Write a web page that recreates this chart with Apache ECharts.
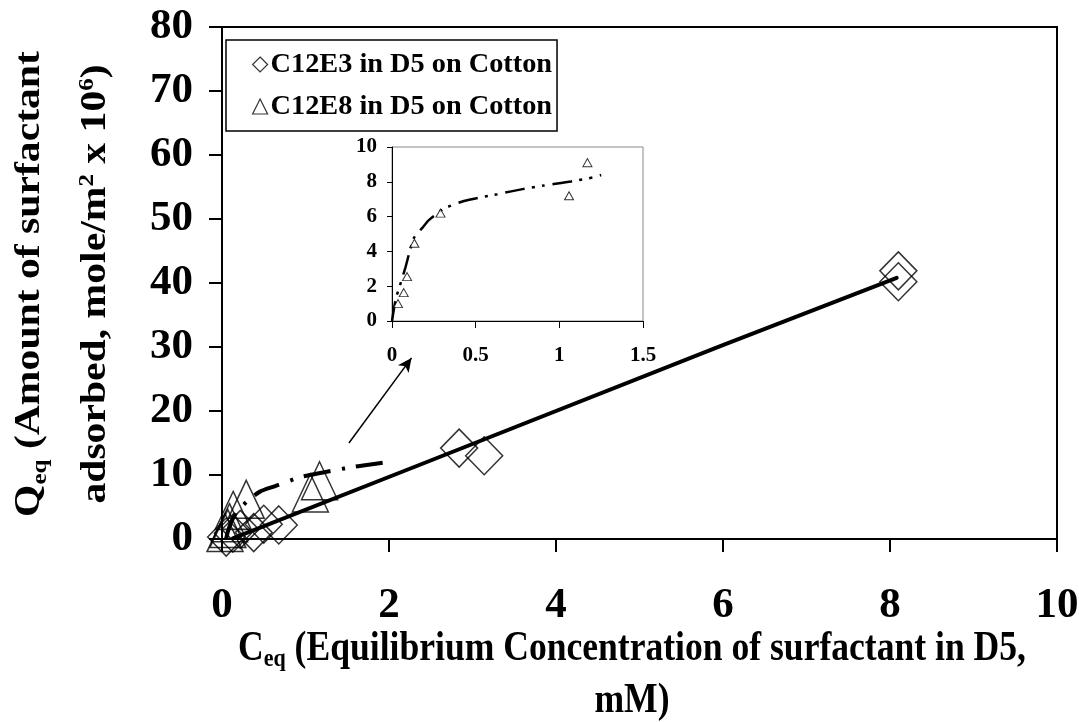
<!DOCTYPE html>
<html>
<head>
<meta charset="utf-8">
<title>Adsorption of C12E3 and C12E8 on cotton</title>
<script src="https://cdn.jsdelivr.net/npm/echarts@6/dist/echarts.min.js"></script>
<style>
  html, body { margin: 0; padding: 0; background: #fff; }
  #chart { width: 1079px; height: 722px; }
</style>
</head>
<body>
<div id="chart"></div>
<script>
// Measured adsorption points: equilibrium concentration (mM) and adsorbed amount (mole/m2 x 1e6)
const c12e3Ceq = [0.05, 0.13, 0.22, 0.38, 0.50, 0.68, 2.84, 3.14, 8.10, 8.10];
const c12e3Qeq = [0.3, 0.9, 1.5, 1.0, 2.3, 2.2, 14.2, 13.0, 40.2, 41.9];

const c12e8Ceq = [0.036, 0.07, 0.09, 0.134, 0.29, 1.058, 1.168];
const c12e8Qeq = [1.0, 1.63, 2.55, 4.47, 6.2, 7.2, 9.1];

// Trend line for C12E3 (solid)
const fitE3Ceq = [0.13, 2.37, 5.96, 8.08];
const fitE3Qeq = [0.1, 11.6, 30.1, 40.8];

// Trend curve for C12E8 on the full-range plot (dash-dot)
const fitE8Ceq = [0.05, 0.08, 0.12, 0.17, 0.23, 0.33, 0.455, 0.62, 0.79, 0.92, 1.05, 1.37, 1.55, 1.69, 2.04];
const fitE8Qeq = [0.1, 1.6, 2.9, 4.1, 5.0, 6.2, 7.4, 8.2, 9.0, 9.6, 10.0, 10.8, 11.2, 11.5, 12.1];

// Trend curve for C12E8 in the low-concentration inset (dash-dot-dot)
const insetFitCeq = [0, 0.022, 0.046, 0.062, 0.08, 0.13, 0.18, 0.22, 0.31, 0.43, 0.63, 0.78, 0.91, 1.07, 1.21, 1.25];
const insetFitQeq = [0, 1.25, 2.0, 2.5, 3.07, 4.76, 5.34, 5.8, 6.45, 6.9, 7.29, 7.58, 7.79, 8.02, 8.27, 8.39];

// Pointer from the low-concentration region to the inset (data coordinates of the main plot)
const pointerFrom = [1.52, 15.0];
const pointerTo = [2.27, 28.3];

// Axis ranges and tick steps
const mainX = { min: 0, max: 10, step: 2 };
const mainY = { min: 0, max: 80, step: 10 };
const insetX = { min: 0, max: 1.5, step: 0.5 };
const insetY = { min: 0, max: 10, step: 2 };

const seriesNames = ['C12E3 in D5 on Cotton', 'C12E8 in D5 on Cotton'];

const zip = (xs, ys) => xs.map((x, i) => [x, ys[i]]);

const SERIF = "'Liberation Serif', 'Times New Roman', Times, serif";
const INK = '#000';

function valueAxis(range, idx, opts) {
  return Object.assign({
    type: 'value',
    gridIndex: idx,
    min: range.min,
    max: range.max,
    interval: range.step,
    splitLine: { show: false },
    axisLine: { show: true, onZero: false, lineStyle: { color: INK, width: 2 } },
    axisTick: { show: true, inside: false, length: 13, lineStyle: { color: INK, width: 2 } },
    axisLabel: { color: INK, fontFamily: SERIF, fontWeight: 'bold', fontSize: 43 }
  }, opts || {});
}

const chart = echarts.init(document.getElementById('chart'), null, { renderer: 'canvas' });

const option = {
  backgroundColor: '#fff',
  animation: false,
  grid: [
    { left: 222, right: 22, top: 27, bottom: 183, show: true, borderColor: INK, borderWidth: 2, backgroundColor: 'transparent', containLabel: false, outerBoundsMode: 'none' },
    { left: 392, right: 436, top: 147, bottom: 401, show: true, borderColor: '#888', borderWidth: 1, backgroundColor: '#fff', containLabel: false, outerBoundsMode: 'none' }
  ],
  xAxis: [
    valueAxis(mainX, 0, { axisLabel: { color: INK, fontFamily: SERIF, fontWeight: 'bold', fontSize: 43, margin: 45 } }),
    valueAxis(insetX, 1, {
      axisLine: { show: true, onZero: false, lineStyle: { color: INK, width: 1 } },
      axisTick: { show: true, length: 7, lineStyle: { color: INK, width: 1 } },
      axisLabel: { color: INK, fontFamily: SERIF, fontWeight: 'bold', fontSize: 21, margin: 24 }
    })
  ],
  yAxis: [
    valueAxis(mainY, 0, { axisLabel: { color: INK, fontFamily: SERIF, fontWeight: 'bold', fontSize: 43, margin: 29 } }),
    valueAxis(insetY, 1, {
      axisLine: { show: true, onZero: false, lineStyle: { color: INK, width: 1 } },
      axisTick: { show: true, length: 5, lineStyle: { color: INK, width: 1 } },
      axisLabel: { color: INK, fontFamily: SERIF, fontWeight: 'bold', fontSize: 21, margin: 15 }
    })
  ],
  legend: {
    data: [
      { name: seriesNames[0], icon: 'diamond' },
      { name: seriesNames[1], icon: 'triangle' }
    ],
    orient: 'vertical',
    left: 226,
    top: 40,
    padding: [9, 5, 9, 26],
    itemGap: 11,
    itemWidth: 15,
    itemHeight: 15,
    backgroundColor: '#fff',
    borderColor: INK,
    borderWidth: 1.5,
    borderRadius: 0,
    selectedMode: false,
    itemStyle: { color: 'rgba(0,0,0,0)', borderColor: INK, borderWidth: 1.2 },
    textStyle: { color: INK, fontFamily: SERIF, fontWeight: 'bold', fontSize: 28.3, lineHeight: 31, padding: [0, 0, 0, -2] }
  },
  series: [
    {
      name: seriesNames[0],
      type: 'scatter',
      xAxisIndex: 0, yAxisIndex: 0,
      symbol: 'diamond',
      symbolSize: [37, 38],
      itemStyle: { color: 'rgba(0,0,0,0)', borderColor: INK, borderWidth: 1.5 },
      data: zip(c12e3Ceq, c12e3Qeq),
      z: 3
    },
    {
      name: seriesNames[1],
      type: 'scatter',
      xAxisIndex: 0, yAxisIndex: 0,
      symbol: 'triangle',
      symbolSize: [36, 38],
      itemStyle: { color: 'rgba(0,0,0,0)', borderColor: INK, borderWidth: 1.5 },
      data: zip(c12e8Ceq, c12e8Qeq),
      z: 3
    },
    {
      name: 'C12E3 fit',
      type: 'line',
      xAxisIndex: 0, yAxisIndex: 0,
      showSymbol: false,
      lineStyle: { color: INK, width: 4, type: 'solid', cap: 'round' },
      data: zip(fitE3Ceq, fitE3Qeq),
      z: 4
    },
    {
      name: 'C12E8 fit',
      type: 'line',
      xAxisIndex: 0, yAxisIndex: 0,
      showSymbol: false,
      smooth: 0.3,
      lineStyle: { color: INK, width: 4, type: [27, 12, 3, 11], cap: 'butt' },
      data: zip(fitE8Ceq, fitE8Qeq),
      z: 4
    },
    {
      name: 'pointer',
      type: 'line',
      xAxisIndex: 0, yAxisIndex: 0,
      data: [],
      silent: true,
      markLine: {
        silent: true,
        symbol: ['none', 'arrow'],
        symbolSize: [10, 14],
        label: { show: false },
        lineStyle: { color: INK, width: 1.5, type: 'solid' },
        data: [[{ coord: pointerFrom }, { coord: pointerTo }]]
      }
    },
    {
      name: 'C12E8 inset',
      type: 'scatter',
      xAxisIndex: 1, yAxisIndex: 1,
      symbol: 'triangle',
      symbolSize: [9, 8],
      itemStyle: { color: '#fff', borderColor: INK, borderWidth: 1 },
      data: zip(c12e8Ceq, c12e8Qeq),
      z: 5
    },
    {
      name: 'C12E8 inset fit',
      type: 'line',
      xAxisIndex: 1, yAxisIndex: 1,
      showSymbol: false,
      smooth: 0.2,
      lineStyle: { color: INK, width: 2.5, type: [20, 7, 3, 7, 3, 8], cap: 'butt' },
      data: zip(insetFitCeq, insetFitQeq),
      z: 4
    }
  ],
  graphic: [
    {
      // vertical axis title, stretched along its reading direction
      type: 'text',
      x: 63, y: 284,
      rotation: Math.PI / 2,
      scaleX: 1.19,
      style: {
        text: '{b|Q}{sub|eq}{b| (Amount of surfactant}\n{b|adsorbed, mole/m}{sup|2}{b| x 10}{sup|6}{b|)}',
        align: 'center',
        verticalAlign: 'middle',
        fill: INK,
        rich: {
          b: { fontFamily: SERIF, fontWeight: 'bold', fontSize: 35, lineHeight: 66, fill: INK },
          sub: { fontFamily: SERIF, fontWeight: 'bold', fontSize: 21, lineHeight: 66, verticalAlign: 'bottom', padding: [0, 0, 12, 0], fill: INK },
          sup: { fontFamily: SERIF, fontWeight: 'bold', fontSize: 21, lineHeight: 66, verticalAlign: 'top', padding: [14, 0, 0, 0], fill: INK }
        }
      }
    },
    {
      // horizontal axis title, drawn slightly tall
      type: 'text',
      x: 632, y: 675,
      scaleY: 1.18,
      style: {
        text: '{b|C}{sub|eq}{b| (Equilibrium Concentration of surfactant in D5,}\n{b|mM)}',
        align: 'center',
        verticalAlign: 'middle',
        fill: INK,
        rich: {
          b: { fontFamily: SERIF, fontWeight: 'bold', fontSize: 35.6, lineHeight: 44, fill: INK },
          sub: { fontFamily: SERIF, fontWeight: 'bold', fontSize: 22, lineHeight: 44, verticalAlign: 'bottom', padding: [0, 0, 2, 0], fill: INK }
        }
      }
    }
  ]
};

chart.setOption(option);
</script>
</body>
</html>
